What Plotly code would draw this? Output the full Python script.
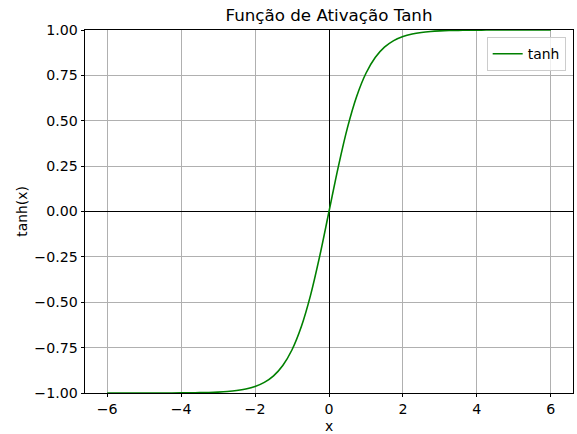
import plotly.graph_objects as go

# Sampled points of the tanh activation curve
x_vals = [-6.0, -5.75, -5.5, -5.25, -5.0, -4.75, -4.5, -4.25, -4.0, -3.75, -3.5, -3.25,
          -3.0, -2.75, -2.5, -2.25, -2.0, -1.75, -1.5, -1.25, -1.0, -0.75, -0.5, -0.25,
          0.0, 0.25, 0.5, 0.75, 1.0, 1.25, 1.5, 1.75, 2.0, 2.25, 2.5, 2.75,
          3.0, 3.25, 3.5, 3.75, 4.0, 4.25, 4.5, 4.75, 5.0, 5.25, 5.5, 5.75, 6.0]
y_vals = [-1.0000, -1.0000, -1.0000, -1.0000, -0.9999, -0.9999, -0.9998, -0.9996,
          -0.9993, -0.9989, -0.9982, -0.9970, -0.9951, -0.9919, -0.9866, -0.9780,
          -0.9640, -0.9414, -0.9051, -0.8483, -0.7616, -0.6351, -0.4621, -0.2449,
          0.0000, 0.2449, 0.4621, 0.6351, 0.7616, 0.8483, 0.9051, 0.9414,
          0.9640, 0.9780, 0.9866, 0.9919, 0.9951, 0.9970, 0.9982, 0.9989,
          0.9993, 0.9996, 0.9998, 0.9999, 0.9999, 1.0000, 1.0000, 1.0000, 1.0000]

x_ticks = [-6, -4, -2, 0, 2, 4, 6]
y_ticks = [-1.0, -0.75, -0.5, -0.25, 0.0, 0.25, 0.5, 0.75, 1.0]

FONT = "DejaVu Sans"

fig = go.Figure()
fig.add_trace(go.Scatter(
    x=x_vals, y=y_vals, mode="lines", name="tanh",
    line=dict(color="#008000", width=1.6, shape="spline", smoothing=1.0),
))

axis_common = dict(
    showgrid=True, gridcolor="#b0b0b0", gridwidth=0.8,
    showline=True, linecolor="black", linewidth=0.8, mirror=True,
    ticks="outside", ticklen=3.5, tickwidth=0.8, tickcolor="black",
    zeroline=True, zerolinecolor="black", zerolinewidth=1,
    tickfont=dict(family=FONT, size=14.2, color="black"),
    automargin=False,
)

fig.update_xaxes(
    range=[-6.6, 6.6], tickvals=x_ticks, tickformat="d",
    title=dict(text="x", font=dict(family=FONT, size=13.9, color="black"), standoff=6),
    **axis_common,
)
fig.update_yaxes(
    range=[-1.0, 1.0], tickvals=y_ticks, tickformat=".2f",
    title=dict(text="tanh(x)", font=dict(family=FONT, size=13.9, color="black"), standoff=3),
    **axis_common,
)

fig.update_layout(
    width=577, height=434,
    margin=dict(l=85, r=4, t=30, b=41),
    paper_bgcolor="white", plot_bgcolor="white",
    font=dict(family=FONT, size=13.9, color="black"),
    title=dict(text="Função de Ativação Tanh", x=(85 + 573) / 2 / 577, xanchor="center",
               y=1 - 15 / 434, yanchor="middle", automargin=False,
               font=dict(family=FONT, size=16.7, color="black")),
    showlegend=True,
    legend=dict(x=0.985, y=0.98, xanchor="right", yanchor="top",
                bgcolor="rgba(255,255,255,0.8)", bordercolor="#cccccc", borderwidth=1,
                font=dict(family=FONT, size=13.9, color="black")),
)

fig.write_html("out.html")
